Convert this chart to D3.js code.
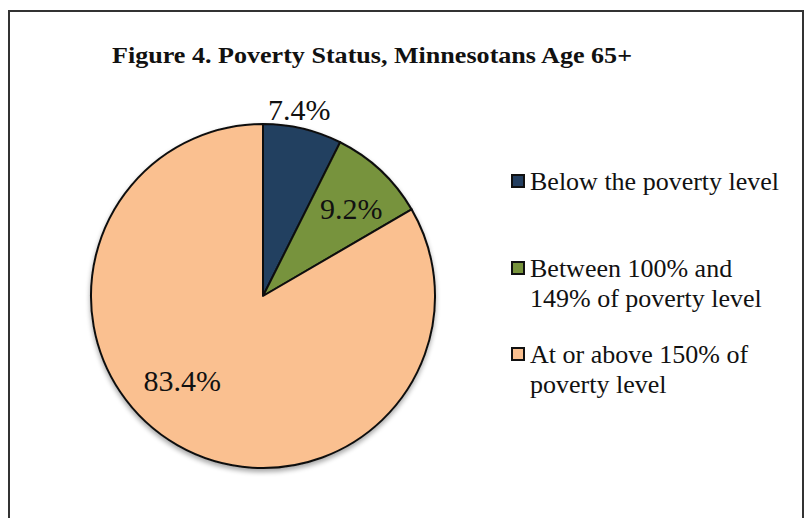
<!DOCTYPE html>
<html><head><meta charset="utf-8">
<script src="https://cdn.jsdelivr.net/npm/d3@7"></script>
<style>html,body{margin:0;padding:0;background:#fff;}svg{display:block;}</style>
</head><body>
<svg id="chart" width="807" height="518"></svg>
<script>
const title = "Figure 4. Poverty Status, Minnesotans Age 65+";
const categories = ["Below the poverty level", "Between 100% and 149% of poverty level", "At or above 150% of poverty level"];
const legendLines = [["Below the poverty level"], ["Between 100% and", "149% of poverty level"], ["At or above 150% of", "poverty level"]];
const values = [7.4, 9.2, 83.4];
const valueLabels = ["7.4%", "9.2%", "83.4%"];
const colors = ["#243F60", "#77933C", "#FAC090"];

const svg = d3.select("#chart");
const W = 807, H = 518;
const serif = "'Liberation Serif','Times New Roman',serif";

const defs = svg.append("defs");
const f = defs.append("filter").attr("id","sh").attr("x","-20%").attr("y","-20%").attr("width","140%").attr("height","140%");
f.append("feGaussianBlur").attr("in","SourceAlpha").attr("stdDeviation",2.5).attr("result","b");
f.append("feOffset").attr("in","b").attr("dx",0).attr("dy",3).attr("result","o");
f.append("feComponentTransfer").attr("in","o").attr("result","o2").append("feFuncA").attr("type","linear").attr("slope",0.35);
const m = f.append("feMerge"); m.append("feMergeNode").attr("in","o2"); m.append("feMergeNode").attr("in","SourceGraphic");

// outer frame
svg.append("rect").attr("x",9).attr("y",11).attr("width",794).attr("height",H+20)
  .attr("fill","#fff").attr("stroke","#333").attr("stroke-width",2);

svg.append("text").attr("x",112).attr("y",63)
  .attr("font-family",serif).attr("font-weight","bold").attr("font-size",23)
  .attr("textLength",520).attr("lengthAdjust","spacingAndGlyphs")
  .attr("fill","#111").text(title);

const cx = 263, cy = 296, r = 172;
const pie = d3.pie().sort(null).value(d => d);
const arcs = pie(values);
const arc = d3.arc().innerRadius(0).outerRadius(r);
const g = svg.append("g").attr("transform",`translate(${cx},${cy})`);
g.append("g").attr("filter","url(#sh)").selectAll("path").data(arcs).join("path")
  .attr("d",arc).attr("fill",(d,i)=>colors[i])
  .attr("stroke","#111").attr("stroke-width",2).attr("stroke-linejoin","round");

// label positions: radius factors for each slice
const labelR = [1.1, 0.72, 0.68];
const labelAngleShift = [-0.04, 0.04, 0.24];
g.selectAll("text.v").data(arcs).join("text").attr("class","v")
  .attr("x",(d,i)=>{const a=(d.startAngle+d.endAngle)/2+labelAngleShift[i];return Math.sin(a)*r*labelR[i];})
  .attr("y",(d,i)=>{const a=(d.startAngle+d.endAngle)/2+labelAngleShift[i];return -Math.cos(a)*r*labelR[i]+10;})
  .attr("text-anchor","middle").attr("font-family",serif).attr("font-size",30)
  .attr("fill","#111").text((d,i)=>valueLabels[i]);

// legend
const legendTop = [190, 277, 363];
const lg = svg.append("g");
categories.forEach((c,i)=>{
  lg.append("rect").attr("x",512).attr("y",legendTop[i]-15).attr("width",12).attr("height",12)
    .attr("fill",colors[i]).attr("stroke","#111").attr("stroke-width",2);
  const t = lg.append("text").attr("x",530).attr("y",legendTop[i])
    .attr("font-family",serif).attr("font-size",26).attr("fill","#111");
  legendLines[i].forEach((ln,j)=>{
    t.append("tspan").attr("x",530).attr("y",legendTop[i]+j*30).text(ln);
  });
});
</script>
</body></html>
